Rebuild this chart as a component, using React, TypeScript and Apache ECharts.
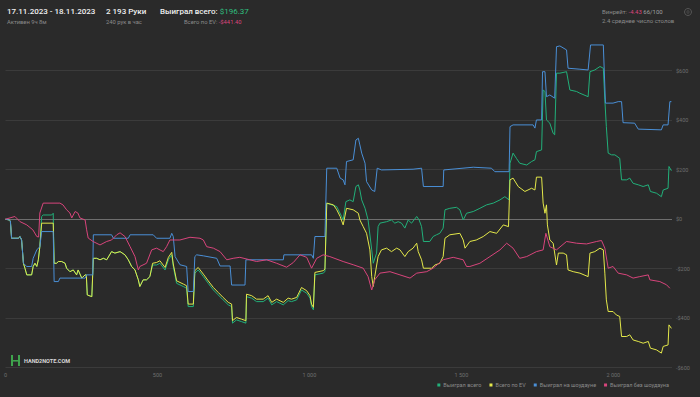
import React, { useEffect, useRef } from "react";
import * as echarts from "echarts";

// [hand number, cumulative $]
const wonTotal: [number, number][] = [
  [0, 0], [12, -3], [16, -7], [20, -77], [42, -77], [48, -70], [53, -84], [59, -178], [64, -198], [70, -225],
  [86, -225], [91, -191], [97, -178], [103, -191], [108, -164], [113, -111], [119, 11], [124, 17], [152, 17], [157, 24],
  [160, -178], [168, -178], [174, -171], [185, -171], [196, -178], [201, -198], [212, -212], [223, -205], [234, -225], [239, -205],
  [251, -238], [262, -225], [266, -225], [269, -306], [284, -313], [286, -313], [289, -158], [300, -158], [311, -164], [322, -158],
  [333, -164], [349, -131], [360, -137], [377, -131], [393, -144], [404, -164], [415, -191], [426, -205], [437, -245], [442, -272],
  [453, -245], [464, -245], [475, -232], [484, -185], [497, -185], [508, -178], [525, -205], [536, -164], [547, -144], [552, -191],
  [563, -259], [585, -272], [596, -279], [601, -353], [618, -353], [623, -218], [634, -205], [651, -232], [667, -259], [684, -286],
  [700, -306], [716, -326], [733, -346], [744, -353], [747, -420], [760, -407], [777, -414], [791, -420], [793, -313], [810, -319],
  [826, -333], [848, -333], [864, -319], [876, -346], [892, -333], [914, -346], [930, -329], [941, -333], [958, -326], [974, -286],
  [991, -299], [1002, -319], [1007, -353], [1013, -366], [1018, -225], [1045, -218], [1051, -212], [1057, 65], [1073, 58], [1090, 51],
  [1106, 11], [1111, -3], [1120, 71], [1133, 78], [1144, 71], [1153, 132], [1161, 139], [1166, 118], [1172, 78], [1183, 44],
  [1193, -3], [1205, -124], [1210, -178], [1221, -137], [1226, -30], [1232, -16], [1254, -10], [1270, -3], [1281, -16], [1292, -10],
  [1303, -16], [1314, -36], [1325, -3], [1336, -16], [1353, 11], [1361, -3], [1369, -30], [1375, -90], [1396, -90], [1407, -70],
  [1418, -63], [1429, -57], [1440, -36], [1446, 38], [1462, 44], [1484, 48], [1495, 38], [1506, -3], [1517, 24], [1539, 31],
  [1561, 44], [1583, 58], [1605, 65], [1627, 78], [1643, 91], [1657, 78], [1660, 226], [1670, 267], [1681, 246], [1692, 226],
  [1715, 219], [1731, 233], [1742, 240], [1747, 273], [1764, 280], [1769, 522], [1775, 516], [1780, 401], [1791, 388], [1802, 347],
  [1807, 341], [1813, 590], [1824, 590], [1846, 596], [1857, 522], [1879, 516], [1890, 509], [1917, 495], [1923, 596], [1939, 603],
  [1956, 617], [1967, 610], [1972, 482], [1977, 374], [1983, 267], [1994, 260], [2005, 260], [2021, 246], [2027, 159], [2044, 159],
  [2054, 166], [2065, 145], [2082, 139], [2098, 132], [2115, 139], [2122, 112], [2142, 105], [2158, 91], [2164, 118], [2180, 125],
  [2183, 213], [2191, 196],
];

const totalEv: [number, number][] = [
  [0, 0], [12, -3], [16, -7], [20, -77], [42, -77], [48, -70], [53, -84], [59, -178], [64, -198], [70, -225],
  [86, -225], [91, -191], [97, -178], [103, -191], [108, -164], [113, -111], [119, -16], [157, -16], [160, -178], [168, -178],
  [174, -171], [185, -171], [196, -178], [201, -198], [212, -212], [223, -205], [234, -225], [239, -205], [251, -238], [262, -225],
  [266, -225], [269, -306], [284, -313], [286, -313], [289, -158], [300, -158], [311, -164], [322, -158], [333, -164], [349, -131],
  [360, -137], [377, -131], [393, -144], [404, -164], [415, -191], [426, -205], [437, -245], [442, -272], [453, -245], [464, -245],
  [475, -232], [484, -178], [497, -175], [508, -168], [525, -195], [536, -154], [547, -134], [552, -181], [563, -249], [585, -262],
  [596, -269], [601, -343], [618, -343], [623, -208], [634, -195], [651, -222], [667, -249], [684, -276], [700, -296], [716, -316],
  [733, -336], [744, -343], [747, -410], [760, -397], [777, -404], [791, -410], [793, -303], [810, -309], [826, -323], [848, -323],
  [864, -309], [876, -336], [892, -323], [914, -336], [930, -319], [941, -323], [958, -316], [974, -276], [991, -289], [1002, -309],
  [1007, -343], [1013, -356], [1018, -215], [1045, -208], [1051, -202], [1057, 65], [1079, 58], [1090, 38], [1101, 11], [1111, -23],
  [1122, 44], [1144, 38], [1161, 24], [1166, -3], [1177, -30], [1188, -57], [1199, -124], [1205, -232], [1210, -272], [1215, -232],
  [1226, -151], [1237, -124], [1254, -117], [1270, -131], [1287, -117], [1298, -124], [1314, -151], [1325, -131], [1341, -117], [1353, -97],
  [1358, -131], [1369, -164], [1375, -198], [1402, -198], [1413, -185], [1429, -178], [1440, -151], [1446, -77], [1462, -63], [1495, -57],
  [1506, -84], [1512, -117], [1528, -90], [1549, -84], [1572, -70], [1594, -50], [1616, -57], [1638, -23], [1655, -30], [1660, 159],
  [1670, 166], [1687, 132], [1709, 112], [1731, 125], [1742, 118], [1747, 170], [1764, 170], [1769, 65], [1775, 24], [1780, 58],
  [1783, -23], [1791, -84], [1802, -97], [1813, -185], [1819, -137], [1835, -137], [1846, -144], [1851, -205], [1868, -212], [1890, -218],
  [1917, -232], [1923, -137], [1939, -131], [1956, -117], [1967, -124], [1972, -218], [1977, -326], [1983, -373], [1999, -373], [2010, -387],
  [2021, -393], [2027, -474], [2044, -474], [2054, -467], [2065, -488], [2082, -494], [2098, -501], [2115, -494], [2122, -521], [2142, -528],
  [2158, -541], [2164, -514], [2180, -508], [2183, -427], [2191, -441],
];

const wonShowdown: [number, number][] = [
  [0, 0], [12, -3], [16, -7], [20, -77], [42, -77], [48, -70], [53, -84], [59, -178], [64, -184], [70, -191],
  [86, -191], [91, -158], [103, -124], [113, -111], [119, -50], [157, -50], [160, -252], [174, -252], [179, -238], [262, -238],
  [267, -225], [287, -225], [289, -63], [349, -63], [355, -77], [404, -77], [410, -63], [486, -63], [497, -77], [541, -77],
  [547, -57], [552, -70], [558, -151], [574, -184], [596, -191], [601, -292], [618, -292], [623, -151], [629, -144], [651, -148],
  [695, -158], [706, -189], [739, -189], [744, -266], [788, -266], [791, -164], [914, -164], [916, -144], [1007, -144], [1013, -158],
  [1018, -70], [1051, -70], [1057, 206], [1090, 206], [1101, 166], [1111, 159], [1117, 139], [1122, 233], [1144, 240], [1153, 320],
  [1161, 327], [1166, 300], [1172, 267], [1183, 226], [1188, 152], [1205, 118], [1215, 112], [1223, 206], [1237, 199], [1341, 202],
  [1369, 206], [1375, 132], [1440, 132], [1442, 199], [1539, 210], [1599, 206], [1610, 192], [1657, 192], [1660, 374], [1670, 381],
  [1736, 381], [1742, 368], [1747, 401], [1764, 401], [1767, 596], [1775, 596], [1780, 495], [1791, 502], [1807, 489], [1813, 697],
  [1824, 700], [1846, 684], [1851, 610], [1890, 606], [1917, 603], [1925, 704], [1967, 704], [1974, 469], [1999, 469], [2016, 475],
  [2027, 475], [2032, 390], [2070, 388], [2082, 364], [2158, 361], [2164, 381], [2180, 381], [2186, 475], [2191, 475],
];

const wonNoShowdown: [number, number][] = [
  [0, 0], [31, 11], [48, -10], [70, -23], [90, -43], [103, -70], [109, -72], [113, 25], [124, 65], [179, 65],
  [189, 58], [201, 38], [212, 25], [218, 5], [229, 31], [238, 25], [245, 5], [262, -3], [267, -43], [272, -76],
  [288, -90], [311, -104], [333, -90], [349, -84], [366, -63], [377, -55], [393, -70], [410, -111], [426, -151], [437, -205],
  [442, -191], [464, -178], [481, -124], [497, -117], [519, -131], [530, -111], [541, -84], [574, -84], [607, -73], [640, -77],
  [651, -84], [662, -111], [684, -117], [706, -131], [728, -164], [749, -158], [771, -154], [804, -164], [826, -171], [859, -164],
  [892, -178], [925, -194], [947, -175], [969, -144], [991, -154], [1007, -198], [1024, -158], [1045, -144], [1067, -151], [1111, -171],
  [1144, -184], [1177, -198], [1193, -232], [1205, -286], [1215, -245], [1232, -218], [1265, -212], [1298, -225], [1331, -238], [1353, -218],
  [1386, -212], [1407, -198], [1440, -164], [1473, -154], [1506, -164], [1517, -191], [1528, -191], [1561, -178], [1594, -151], [1627, -124],
  [1649, -97], [1670, -117], [1692, -158], [1715, -151], [1747, -131], [1769, -124], [1778, -57], [1791, -111], [1813, -124], [1846, -90],
  [1879, -97], [1912, -100], [1945, -90], [1961, -86], [1972, -117], [1983, -198], [1999, -191], [2016, -218], [2044, -225], [2065, -238],
  [2087, -232], [2115, -225], [2120, -245], [2153, -252], [2175, -265], [2186, -279],
];

const seriesNames = ["Выиграл всего", "Всего по EV", "Выиграл на шоудауне", "Выиграл без шоудауна"];
const seriesColors = ["#22b07a", "#e4e84a", "#4a8fd6", "#d8457c"];
const xTicks = [0, 500, 1000, 1500, 2000];
const yTicks = [-600, -400, -200, 0, 200, 400, 600];
const totalHands = 2193;

const FONT = "Roboto, 'Noto Sans', sans-serif";

export default function App() {
  const ref = useRef<HTMLDivElement>(null);
  useEffect(() => {
    if (!ref.current) return;
    const chart = echarts.init(ref.current, undefined, { renderer: "svg" });
    const fmtHand = (v: number) => String(v).replace(/\B(?=(\d{3})+$)/g, " ");
    const fmtUsd = (v: number) => (v < 0 ? `-$${-v}` : `$${v}`);
    const data = [wonTotal, totalEv, wonShowdown, wonNoShowdown];
    const splitColors = yTicks.map((t) => (t === 0 ? "#6e6e6e" : "#3b3b3b"));
    splitColors.push("transparent");

    chart.setOption({
      animation: false,
      backgroundColor: "#2a2a2a",
      textStyle: { fontFamily: FONT },
      grid: { left: 5.5, right: 28, top: 41, bottom: 29.3, containLabel: false },
      legend: {
        data: seriesNames,
        right: 26,
        bottom: 4,
        icon: "rect",
        itemWidth: 3,
        itemHeight: 3,
        itemGap: 8,
        textStyle: { color: "#8a8a8a", fontSize: 5.5, fontFamily: FONT, padding: [0, 0, 0, -2] },
      },
      xAxis: {
        type: "value",
        min: 0,
        max: totalHands,
        interval: 500,
        axisLine: { show: false },
        axisTick: { show: false },
        splitLine: { show: false },
        axisLabel: {
          color: "#6f6f6f",
          fontSize: 5.5,
          margin: 4,
          showMaxLabel: false,
          formatter: (v: number) => (xTicks.includes(v) ? fmtHand(v) : ""),
        },
      },
      yAxis: {
        type: "value",
        position: "right",
        min: -600,
        max: 720,
        interval: 200,
        axisLine: { show: false },
        axisTick: { show: false },
        splitLine: { show: true, showMaxLine: false, lineStyle: { color: splitColors, width: 1 } },
        axisLabel: {
          color: "#6f6f6f",
          fontSize: 5.5,
          margin: 4,
          showMaxLabel: false,
          formatter: (v: number) => (yTicks.includes(v) ? fmtUsd(v) : ""),
        },
      },
      series: data.map((d, i) => ({
        name: seriesNames[i],
        type: "line",
        data: d,
        symbol: "none",
        showSymbol: false,
        lineStyle: { width: 1, color: seriesColors[i] },
        itemStyle: { color: seriesColors[i] },
        z: 2 + i,
      })),
      graphic: [
        { type: "text", left: 7, top: 7, style: { text: "17.11.2023 - 18.11.2023", fill: "#f0f0f0", font: `500 8px ${FONT}` } },
        { type: "text", left: 7, top: 18.5, style: { text: "Активен 9ч 8м", fill: "#8a8a8a", font: `5.8px ${FONT}` } },
        { type: "text", left: 106, top: 7, style: { text: "2 193 Руки", fill: "#f0f0f0", font: `500 8px ${FONT}` } },
        { type: "text", left: 106, top: 18.5, style: { text: "240 рук в час", fill: "#8a8a8a", font: `5.8px ${FONT}` } },
        {
          type: "text", left: 160, top: 7,
          style: {
            text: "{a|Выиграл всего: }{b|$196.37}",
            rich: {
              a: { fill: "#f0f0f0", font: `500 8px ${FONT}` },
              b: { fill: "#2fbf7f", font: `8px ${FONT}` },
            },
          },
        },
        {
          type: "text", left: 184, top: 18.5,
          style: {
            text: "{a|Всего по EV: }{b|-$441.40}",
            rich: {
              a: { fill: "#8a8a8a", font: `5.8px ${FONT}` },
              b: { fill: "#d8457c", font: `5.8px ${FONT}` },
            },
          },
        },
        {
          type: "text", left: 602, top: 8,
          style: {
            text: "{a|Винрейт: }{b|-4.43 }{c|66/100}",
            rich: {
              a: { fill: "#8a8a8a", font: `6px ${FONT}` },
              b: { fill: "#d8457c", font: `6px ${FONT}` },
              c: { fill: "#a0a0a0", font: `6px ${FONT}` },
            },
          },
        },
        { type: "text", left: 602, top: 17.5, style: { text: "2.4 среднее число столов", fill: "#8a8a8a", font: `6px ${FONT}` } },
        { type: "circle", shape: { cx: 688, cy: 12, r: 3.5 }, style: { fill: "none", stroke: "#555", lineWidth: 1 } },
        { type: "circle", shape: { cx: 688, cy: 12, r: 1.2 }, style: { fill: "none", stroke: "#555", lineWidth: 0.8 } },
        // watermark logo
        { type: "rect", shape: { x: 11, y: 355, width: 2, height: 11 }, style: { fill: "#3fa34d" } },
        { type: "rect", shape: { x: 18, y: 355, width: 2, height: 11 }, style: { fill: "#3fa34d" } },
        { type: "rect", shape: { x: 11, y: 360, width: 9, height: 1.6 }, style: { fill: "#3fa34d" } },
        { type: "text", left: 24, top: 358, style: { text: "HAND2NOTE.COM", fill: "#d8d8d8", font: `bold 5.5px ${FONT}` } },
      ],
    });
    return () => chart.dispose();
  }, []);
  return <div ref={ref} style={{ position: "fixed", left: 0, top: 0, width: 700, height: 397 }} />;
}
